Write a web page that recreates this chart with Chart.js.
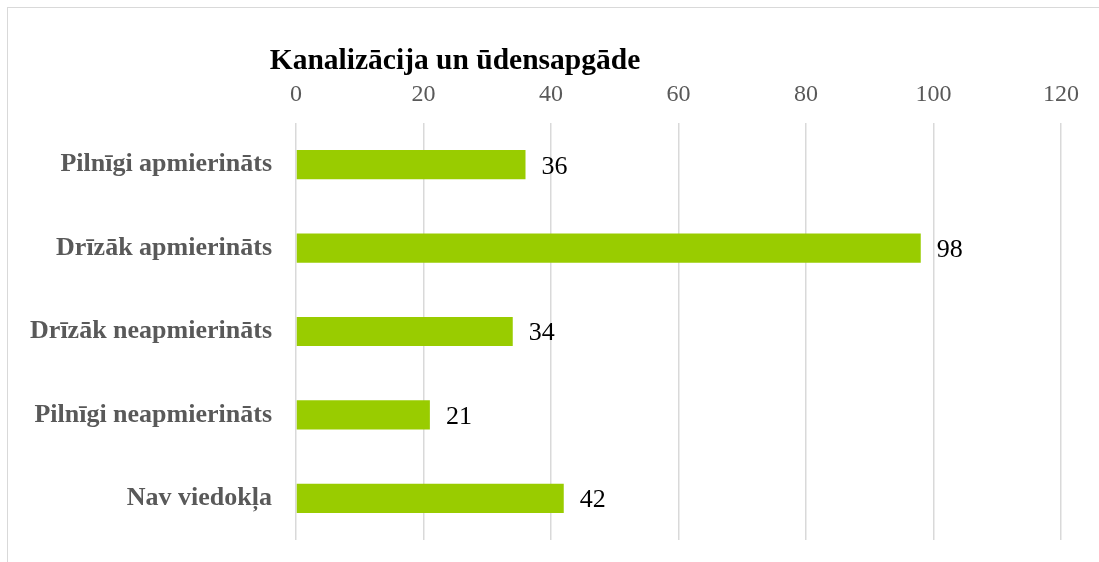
<!DOCTYPE html>
<html>
<head>
<meta charset="utf-8">
<script src="https://cdn.jsdelivr.net/npm/chart.js@4"></script>
<style>
  body { margin: 0; background: #fff; overflow: hidden; }
  #frame { position: absolute; left: 7px; top: 7px; width: 1200px; height: 700px; border: 1.5px solid #d9d9d9; }
  #barChart { position: absolute; left: 0; top: 0; }
</style>
</head>
<body>
<div id="frame"></div>
<canvas id="barChart" width="1099" height="562"></canvas>
<script>
const chartTitle = 'Kanalizācija un ūdensapgāde';
const categories = ['Pilnīgi apmierināts', 'Drīzāk apmierināts', 'Drīzāk neapmierināts', 'Pilnīgi neapmierināts', 'Nav viedokļa'];
const values = [36, 98, 34, 21, 42];
const xMin = 0;
const xMax = 120;
const xStep = 20;

const serif = '"Liberation Serif", "Times New Roman", serif';

// title sits left of the plot centre like in the original
const titlePlugin = {
  id: 'titleText',
  afterDraw(chart) {
    const c = chart.ctx;
    c.save();
    c.font = 'bold 29.5px ' + serif;
    c.fillStyle = '#000';
    c.textAlign = 'center';
    c.textBaseline = 'alphabetic';
    c.fillText(chartTitle, 455, 69);
    c.restore();
  }
};

const valueLabels = {
  id: 'valueLabels',
  afterDatasetsDraw(chart) {
    const c = chart.ctx;
    const meta = chart.getDatasetMeta(0);
    c.save();
    c.font = '26px ' + serif;
    c.fillStyle = '#000';
    c.textAlign = 'left';
    c.textBaseline = 'middle';
    meta.data.forEach((bar, i) => {
      c.fillText(values[i], bar.x + 16, bar.y + 2);
    });
    c.restore();
  }
};

const ctx = document.getElementById('barChart').getContext('2d');
new Chart(ctx, {
  type: 'bar',
  data: {
    labels: categories,
    datasets: [{
      data: values,
      backgroundColor: '#99cc00',
      borderWidth: 0,
      barPercentage: 0.7,
      categoryPercentage: 0.5
    }]
  },
  options: {
    indexAxis: 'y',
    responsive: false,
    animation: false,
    layout: { padding: { left: 0, right: 38, top: 80, bottom: 22 } },
    plugins: {
      legend: { display: false },
      tooltip: { enabled: false }
    },
    scales: {
      x: {
        position: 'top',
        min: xMin,
        max: xMax,
        ticks: {
          stepSize: xStep,
          padding: 14,
          color: '#595959',
          font: { family: serif, size: 24 }
        },
        grid: { color: '#d9d9d9', lineWidth: 1.5, drawTicks: false },
        border: { display: false },
        afterFit(scale) { scale.height = 43; }
      },
      y: {
        ticks: {
          padding: 24,
          color: '#595959',
          font: { family: serif, size: 26, weight: 'bold' }
        },
        grid: { display: false, drawTicks: false },
        border: { display: false },
        afterFit(scale) {
          scale.width = 296;
          scale.paddingTop = 0;
          scale.paddingBottom = 0;
        }
      }
    }
  },
  plugins: [titlePlugin, valueLabels]
});
</script>
</body>
</html>
